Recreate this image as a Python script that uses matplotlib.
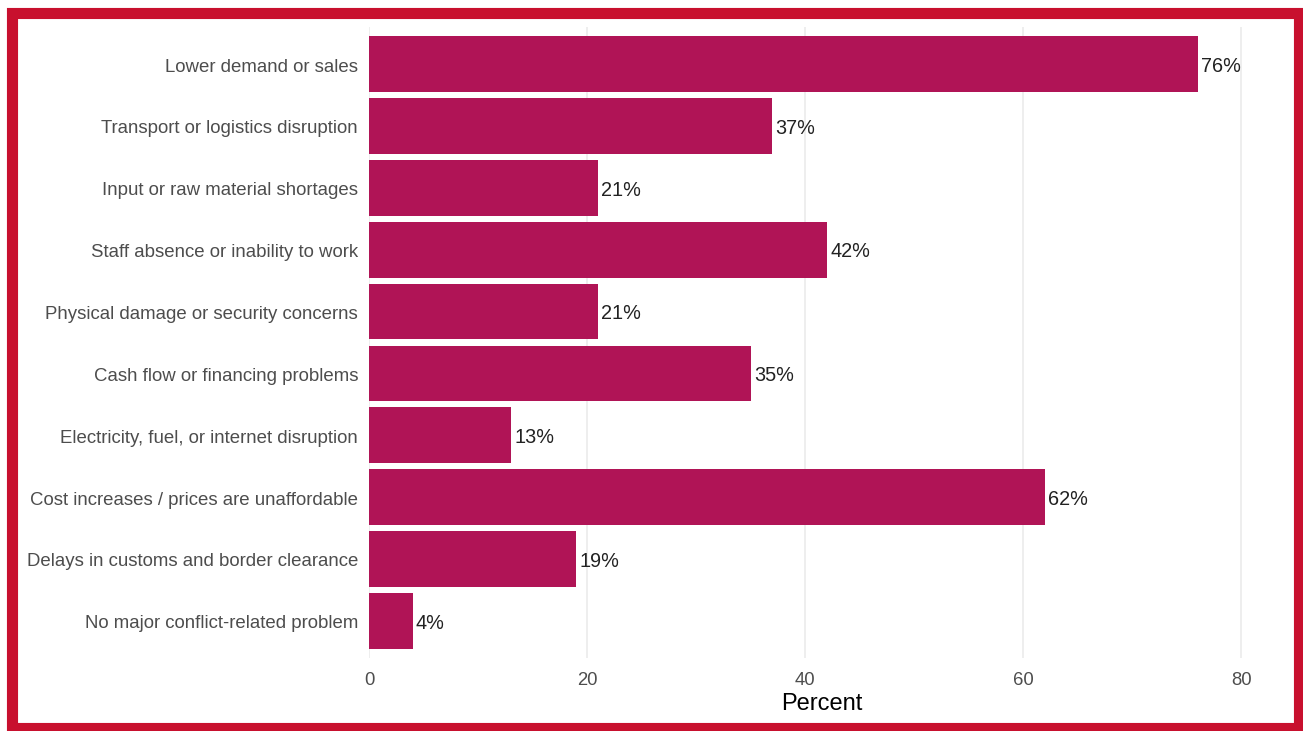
import numpy as np
import matplotlib.pyplot as plt
from matplotlib.patches import Rectangle
from matplotlib.transforms import ScaledTranslation

plt.rcParams['font.family'] = ['Liberation Sans', 'DejaVu Sans']

categories = [
    "Lower demand or sales",
    "Transport or logistics disruption",
    "Input or raw material shortages",
    "Staff absence or inability to work",
    "Physical damage or security concerns",
    "Cash flow or financing problems",
    "Electricity, fuel, or internet disruption",
    "Cost increases / prices are unaffordable",
    "Delays in customs and border clearance",
    "No major conflict-related problem",
]
percent = [76, 37, 21, 42, 21, 35, 13, 62, 19, 4]
xticks = [0, 20, 40, 60, 80]

W, H = 1303, 731
fig = plt.figure(figsize=(W / 100, H / 100), dpi=100)
ax = fig.add_axes([369 / W, 1 - 658 / H, (1274 - 369) / W, (658 - 27) / H])

ypos = np.arange(len(categories))
ax.barh(ypos, percent, height=0.9, color='#B01456', zorder=2)
for y, v in zip(ypos, percent):
    ax.text(v + 0.3, y + 0.125, f"{v}%", va='baseline', ha='left', fontsize=14.3, color='#222222')

# category labels drawn as text so they sit on the bar centre like the original
left = ax.get_yaxis_transform() + ScaledTranslation(-11 / 100, 0, fig.dpi_scale_trans)
for y, c in zip(ypos, categories):
    ax.text(0, y + 0.12, c, transform=left, ha='right', va='baseline',
            fontsize=13.4, color='#4d4d4d')

ax.set_ylim(len(categories) - 0.4, -0.6)
ax.set_xlim(0, 83)
ax.set_yticks([])
ax.set_xticks(xticks)
ax.set_xticklabels([str(t) for t in xticks], fontsize=13.3, color='#4d4d4d')
ax.tick_params(axis='both', length=0)
ax.tick_params(axis='x', pad=10)
ax.grid(axis='x', color='#ebebeb', linewidth=1.2, zorder=0)
for s in ax.spines.values():
    s.set_visible(False)
ax.set_xlabel("Percent", fontsize=17, color='black', labelpad=3)

fig.patches.append(Rectangle((11.5 / W, 1 - 727.5 / H), (1298.5 - 11.5) / W, (727.5 - 12.5) / H,
                             transform=fig.transFigure, fill=False,
                             edgecolor='#C8102E', linewidth=8))

fig.savefig("out.png", dpi=100)
